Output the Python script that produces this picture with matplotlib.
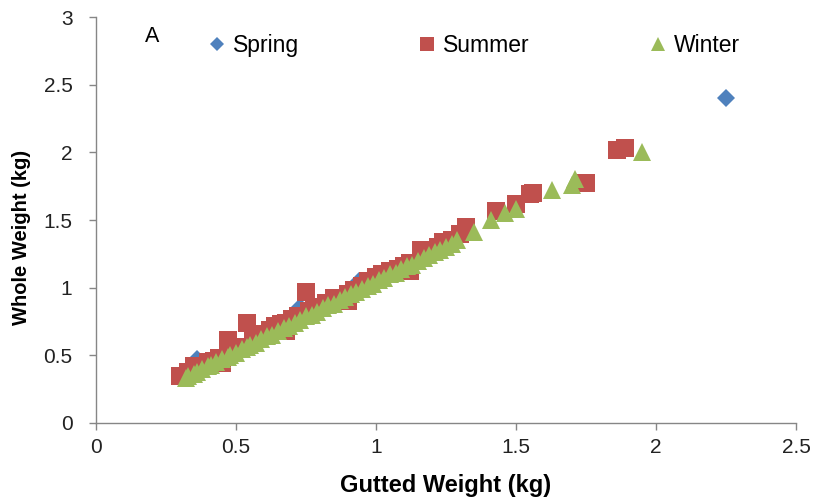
import matplotlib.pyplot as plt

plt.rcParams['font.family'] = ['Liberation Sans', 'DejaVu Sans']

# Spring
spring_x = [0.36, 0.50, 0.73, 0.94, 1.10, 2.25]
spring_y = [0.47, 0.55, 0.86, 1.05, 1.15, 2.40]

# Summer
summer_x = [0.30, 0.33, 0.35, 0.37, 0.40, 0.42, 0.44, 0.45, 0.47, 0.49, 0.51, 0.54,
            0.56, 0.58, 0.60, 0.62, 0.64, 0.66, 0.68, 0.68, 0.70, 0.72, 0.75, 0.76,
            0.78, 0.80, 0.82, 0.85, 0.87, 0.90, 0.90, 0.92, 0.95, 0.97, 1.00, 1.02,
            1.05, 1.08, 1.10, 1.12, 1.12, 1.16, 1.19, 1.22, 1.24, 1.27, 1.30, 1.32,
            1.43, 1.50, 1.55, 1.56, 1.75, 1.86, 1.89]
summer_y = [0.35, 0.38, 0.42, 0.41, 0.45, 0.46, 0.48, 0.44, 0.61, 0.53, 0.56, 0.74,
            0.62, 0.64, 0.66, 0.69, 0.72, 0.73, 0.74, 0.68, 0.77, 0.79, 0.97, 0.83,
            0.85, 0.86, 0.89, 0.92, 0.92, 0.95, 0.90, 0.98, 1.01, 1.05, 1.08, 1.10,
            1.12, 1.14, 1.16, 1.18, 1.12, 1.28, 1.27, 1.30, 1.34, 1.35, 1.40, 1.45,
            1.57, 1.62, 1.69, 1.70, 1.77, 2.02, 2.03]

# Winter
winter_x = [0.32, 0.33, 0.35, 0.36, 0.38, 0.40, 0.41, 0.43, 0.45, 0.47, 0.48, 0.50,
            0.52, 0.54, 0.55, 0.57, 0.59, 0.61, 0.63, 0.65, 0.67, 0.69, 0.71, 0.73,
            0.75, 0.77, 0.79, 0.81, 0.83, 0.85, 0.87, 0.89, 0.91, 0.93, 0.95, 0.97,
            0.99, 1.01, 1.03, 1.05, 1.07, 1.09, 1.11, 1.13, 1.15, 1.17, 1.19, 1.21,
            1.23, 1.25, 1.27, 1.29, 1.35, 1.41, 1.46, 1.50, 1.63, 1.70, 1.71, 1.95]
winter_y = [0.33, 0.35, 0.36, 0.38, 0.40, 0.42, 0.43, 0.45, 0.47, 0.49, 0.50, 0.52,
            0.55, 0.56, 0.58, 0.59, 0.62, 0.64, 0.65, 0.68, 0.70, 0.72, 0.74, 0.76,
            0.79, 0.80, 0.82, 0.85, 0.87, 0.88, 0.91, 0.93, 0.95, 0.97, 0.99, 1.01,
            1.03, 1.06, 1.07, 1.10, 1.11, 1.14, 1.16, 1.17, 1.20, 1.22, 1.24, 1.26,
            1.28, 1.30, 1.32, 1.35, 1.41, 1.50, 1.55, 1.58, 1.72, 1.76, 1.80, 2.00]

fig = plt.figure(figsize=(8.16, 5.03), dpi=100)
ax = fig.add_axes([96/816, 80/503, 700/816, 406/503])

ax.plot(spring_x, spring_y, 'D', color='#4F81BD', markersize=9, markeredgewidth=0, label='Spring')
ax.plot(summer_x, summer_y, 's', color='#C0504D', markersize=13, markeredgewidth=0, label='Summer')
ax.plot(winter_x, winter_y, '^', color='#9BBB59', markersize=13.5, markeredgewidth=0, label='Winter')

ax.set_xlim(0, 2.5)
ax.set_ylim(0, 3)
ax.set_xticks([0, 0.5, 1, 1.5, 2, 2.5])
ax.set_xticklabels(['0', '0.5', '1', '1.5', '2', '2.5'])
ax.set_yticks([0, 0.5, 1, 1.5, 2, 2.5, 3])
ax.set_yticklabels(['0', '0.5', '1', '1.5', '2', '2.5', '3'])

for s in ['top', 'right']:
    ax.spines[s].set_visible(False)
for s in ['left', 'bottom']:
    ax.spines[s].set_color('#868686')
    ax.spines[s].set_linewidth(1)
ax.tick_params(colors='#868686', labelcolor='#222222', labelsize=15, length=5, width=1)
ax.tick_params(axis='y', pad=12)
ax.tick_params(axis='x', pad=6)

ax.set_xlabel('Gutted Weight (kg)', fontsize=17, fontweight='bold', labelpad=12)
ax.set_ylabel('Whole Weight (kg)', fontsize=14.5, fontweight='bold')
ax.yaxis.set_label_coords(-0.093, 0.458)

ax.text(0.08, 0.951, 'A', transform=ax.transAxes, fontsize=15.5, va='center', ha='center')

ax.legend(loc='center left', bbox_to_anchor=(0.156, 0.929), ncol=3, frameon=False,
          fontsize=16.5, handletextpad=0.2, columnspacing=5.1, handlelength=1.0,
          borderaxespad=0, borderpad=0, markerscale=0.75)

fig.savefig('out.png', dpi=100)
